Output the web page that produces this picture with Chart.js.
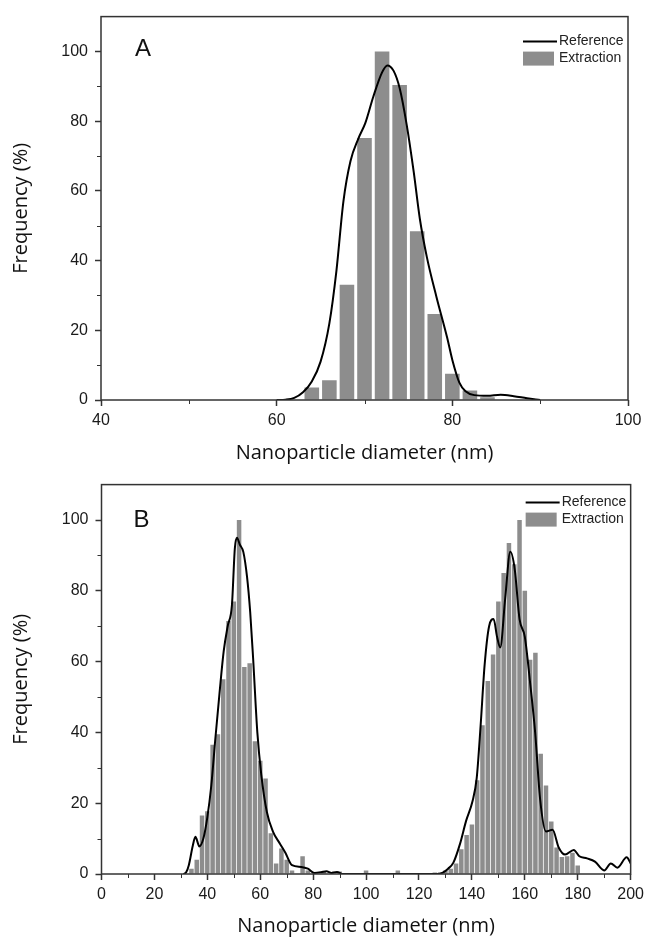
<!DOCTYPE html>
<html>
<head>
<meta charset="utf-8">
<script src="https://cdn.jsdelivr.net/npm/chart.js@4.4.0/dist/chart.umd.min.js"></script>
<style>
html, body { margin: 0; padding: 0; background: #fff; }
#wrap { position: relative; width: 649px; height: 937px; }
canvas { position: absolute; left: 0; }
#cA { top: 0; }
#cB { top: 468px; }
</style>
</head>
<body>
<div id="wrap">
  <canvas id="cA" width="649" height="468"></canvas>
  <canvas id="cB" width="649" height="469"></canvas>
</div>
<script>
// PANEL A - histogram bins (nm) and frequency (%)
var binsA = [64, 66, 68, 70, 72, 74, 76, 78, 80, 82, 84];
var freqA = [3.6, 5.7, 33.1, 75.2, 100, 90.4, 48.4, 24.7, 7.5, 2.7, 0.8];

// PANEL A - reference curve
var refXA = [60, 61, 62, 63, 64, 65, 66, 66.8, 67.6, 68.4, 69.3, 70.1, 71, 72, 72.6, 73.3, 74, 74.8, 75.6, 76.3, 77.1, 78.2, 79.4, 80, 80.8, 81.5, 82.5, 84, 85.5, 87, 88.5, 90];
var refYA = [0, 0.1, 0.6, 2.2, 5.3, 11, 22, 37, 57, 68.5, 75, 79.5, 87, 94, 96, 94.5, 89.5, 79, 65.5, 52, 41, 29.5, 18, 11.5, 5, 2.5, 1.4, 1.2, 1.5, 1.1, 0.5, 0];

// PANEL B - histogram bins (nm) and frequency (%)
var binsB = [34, 36, 38, 40, 42, 44, 46, 48, 50, 52, 54, 56, 58, 60, 62, 64, 66, 68, 70, 72, 76, 78, 84, 88, 90, 100, 112, 126, 128,
             130, 132, 134, 136, 138, 140, 142, 144, 146, 148, 150, 152, 154, 156, 158, 160, 162, 164, 166, 168, 170, 172, 174, 176, 178, 180];
var freqB = [1.5, 4, 16.5, 17.7, 36.5, 39.5, 55, 71.5, 77, 100, 58.5, 59.5, 37.5, 32, 27, 11.5, 3, 7.2, 4, 1, 5, 1, 0.7, 0.7, 0.7, 1, 1, 0.4, 0.4,
             1, 1.5, 3, 7, 11, 14, 26.5, 42, 54.5, 62, 77, 85, 93.5, 87.5, 100, 80, 60.5, 62.5, 34, 25, 14.8, 7.5, 4.8, 5, 6, 2.4];

// PANEL B - reference curve
var refXB = [31, 32, 33, 34.5, 35.5, 37, 38.5, 40, 41.5, 43, 44.6, 46.2, 47.7, 49.3, 50.4, 51.2, 52.3, 53.6, 55, 56.2, 57.3, 58.9, 60.4, 62.5, 64.8, 67.5, 69.5, 72, 75.5, 78, 80.5, 83, 85, 87, 89, 91,
             127, 129, 131, 133, 135.5, 137.8, 140.2, 141.8, 143.3, 144.8, 146.5, 148.2, 149.5, 150.7, 152.6, 154.5, 156.2, 158, 160, 162, 163.9, 165.8, 168, 170.5, 172.8, 175.2, 178.5, 180.6, 183.5, 186.5, 190, 192.5, 195, 198.5, 200];
var refYB = [0, 0.5, 2.5, 8, 10.5, 7.8, 10, 16, 25, 38, 51, 63, 70, 76, 92, 95, 93, 91, 84, 74, 61, 40, 28, 17.5, 12, 8.5, 6, 2.5, 2, 1.5, 0.3, 0.5, 0.8, 0.3, 0.6, 0,
             0, 0.4, 1.5, 3.2, 8.5, 15, 20.5, 27, 42, 59, 70, 72, 67, 64, 78, 91, 86, 72, 67, 54, 40, 21, 12, 12.5, 7.5, 5.5, 6.8, 5, 4.4, 3.5, 1, 3, 1.8, 4.7, 3];

// tick labels
var xLabelsA = [40, 60, 80, 100];
var xLabelsB = [0, 20, 40, 60, 80, 100, 120, 140, 160, 180, 200];
var yLabels = [0, 20, 40, 60, 80, 100];

var barColor = '#8d8d8d';
var axisColor = '#333';
var tickFont = { family: '"Liberation Sans", Arial, sans-serif', size: 16 };
var titleFont = { family: '"Open Sans", sans-serif', size: 20 };

function pts(xs, ys) {
  return xs.map(function (x, i) { return { x: x, y: ys[i] }; });
}

// frame, minor ticks, panel letter and legend
var framePlugin = {
  id: 'frame',
  afterDraw: function (chart, args, o) {
    var a = chart.chartArea, ctx = chart.ctx, r = a.right;
    var sx = chart.scales.x, sy = chart.scales.y;
    ctx.save();
    ctx.strokeStyle = axisColor;
    ctx.lineWidth = 1.5;
    ctx.strokeRect(a.left, a.top, a.right - a.left, a.bottom - a.top);

    // short minor ticks between the labelled ones
    ctx.lineWidth = 1;
    ctx.beginPath();
    sx.ticks.forEach(function (t) {
      if (o.xLabels.indexOf(t.value) >= 0) return;
      var px = Math.round(sx.getPixelForValue(t.value)) + 0.5;
      ctx.moveTo(px, a.bottom);
      ctx.lineTo(px, a.bottom + 4);
    });
    sy.ticks.forEach(function (t) {
      if (yLabels.indexOf(t.value) >= 0 || t.value > 100) return;
      var py = Math.round(sy.getPixelForValue(t.value)) + 0.5;
      ctx.moveTo(a.left, py);
      ctx.lineTo(a.left - 4, py);
    });
    ctx.stroke();

    ctx.fillStyle = '#111';
    ctx.font = '24px "Liberation Sans", Arial, sans-serif';
    ctx.textBaseline = 'middle';
    ctx.textAlign = 'left';
    ctx.fillText(o.letter, a.left + o.lx, a.top + o.ly);

    ctx.beginPath();
    ctx.moveTo(r - 105, a.top + o.gy);
    ctx.lineTo(r - 71, a.top + o.gy);
    ctx.strokeStyle = '#000';
    ctx.lineWidth = 2;
    ctx.stroke();
    ctx.fillStyle = barColor;
    ctx.fillRect(r - 105, a.top + o.gy + 10, 31, 14);
    ctx.fillStyle = '#222';
    ctx.font = '14px "Liberation Sans", Arial, sans-serif';
    ctx.fillText('Reference', r - 69, a.top + o.gy);
    ctx.fillText('Extraction', r - 69, a.top + o.gy + 17);
    ctx.restore();
  }
};

function makePanel(id, cfg) {
  new Chart(document.getElementById(id), {
    type: 'line',
    data: {
      datasets: [{
        type: 'line',
        label: 'Reference',
        data: pts(cfg.refX, cfg.refY),
        borderColor: '#000',
        borderWidth: 2,
        pointRadius: 0,
        fill: false,
        cubicInterpolationMode: 'monotone',
        order: 0
      }, {
        type: 'bar',
        label: 'Extraction',
        data: pts(cfg.bins, cfg.freq),
        backgroundColor: barColor,
        borderWidth: 0,
        barPercentage: cfg.barPct,
        categoryPercentage: 1,
        order: 1
      }]
    },
    options: {
      responsive: false,
      animation: false,
      layout: { padding: { left: 0, top: cfg.padTop, right: cfg.padRight, bottom: 0 } },
      plugins: {
        legend: { display: false },
        tooltip: { enabled: false },
        frame: { letter: cfg.letter, lx: cfg.lx, ly: cfg.ly, gy: cfg.gy, xLabels: cfg.xLabels }
      },
      scales: {
        x: {
          type: 'linear',
          min: cfg.xMin,
          max: cfg.xMax,
          offset: false,
          border: { display: false },
          grid: {
            display: true, drawOnChartArea: false, drawTicks: true, offset: false,
            tickLength: 6,
            color: function (c) { return cfg.xLabels.indexOf(c.tick.value) >= 0 ? axisColor : 'rgba(0,0,0,0)'; },
            tickWidth: 1.5
          },
          ticks: {
            stepSize: 10, autoSkip: false, maxRotation: 0, padding: 5,
            color: '#1a1a1a', font: tickFont,
            callback: function (v) { return cfg.xLabels.indexOf(v) >= 0 ? String(v) : ''; }
          },
          title: {
            display: true, text: 'Nanoparticle diameter (nm)', color: '#111',
            font: { family: titleFont.family, size: titleFont.size, lineHeight: cfg.titleLH },
            padding: { top: 0, bottom: cfg.titlePadB }
          },
          afterFit: function (s) { s.height = cfg.xHeight; }
        },
        y: {
          type: 'linear',
          min: 0,
          max: 110,
          border: { display: false },
          grid: {
            display: true, drawOnChartArea: false, drawTicks: true,
            tickLength: 6,
            color: function (c) { return yLabels.indexOf(c.tick.value) >= 0 ? axisColor : 'rgba(0,0,0,0)'; },
            tickWidth: 1.5
          },
          ticks: {
            stepSize: 10, autoSkip: false, padding: 7,
            color: '#1a1a1a', font: tickFont,
            callback: function (v) { return yLabels.indexOf(v) >= 0 ? String(v) : ''; }
          },
          title: {
            display: true, text: 'Frequency (%)', color: '#111',
            font: { family: titleFont.family, size: titleFont.size, lineHeight: 1.2 },
            padding: { top: 9, bottom: 0 }
          },
          afterFit: function (s) { s.width = cfg.yWidth; }
        }
      }
    },
    plugins: [framePlugin]
  });
}

makePanel('cA', {
  bins: binsA, freq: freqA, refX: refXA, refY: refYA, xLabels: xLabelsA,
  xMin: 40, xMax: 100, barPct: 0.83,
  padTop: 14, padRight: 21, yWidth: 101, xHeight: 68,
  titleLH: 1.2, titlePadB: 3,
  letter: 'A', lx: 34, ly: 33, gy: 25
});

makePanel('cB', {
  bins: binsB, freq: freqB, refX: refXB, refY: refYB, xLabels: xLabelsB,
  xMin: 0, xMax: 200, barPct: 0.85,
  padTop: 15, padRight: 16.5, yWidth: 101.5, xHeight: 63,
  titleLH: 1.1, titlePadB: 0,
  letter: 'B', lx: 32, ly: 36, gy: 18
});
</script>
</body>
</html>
